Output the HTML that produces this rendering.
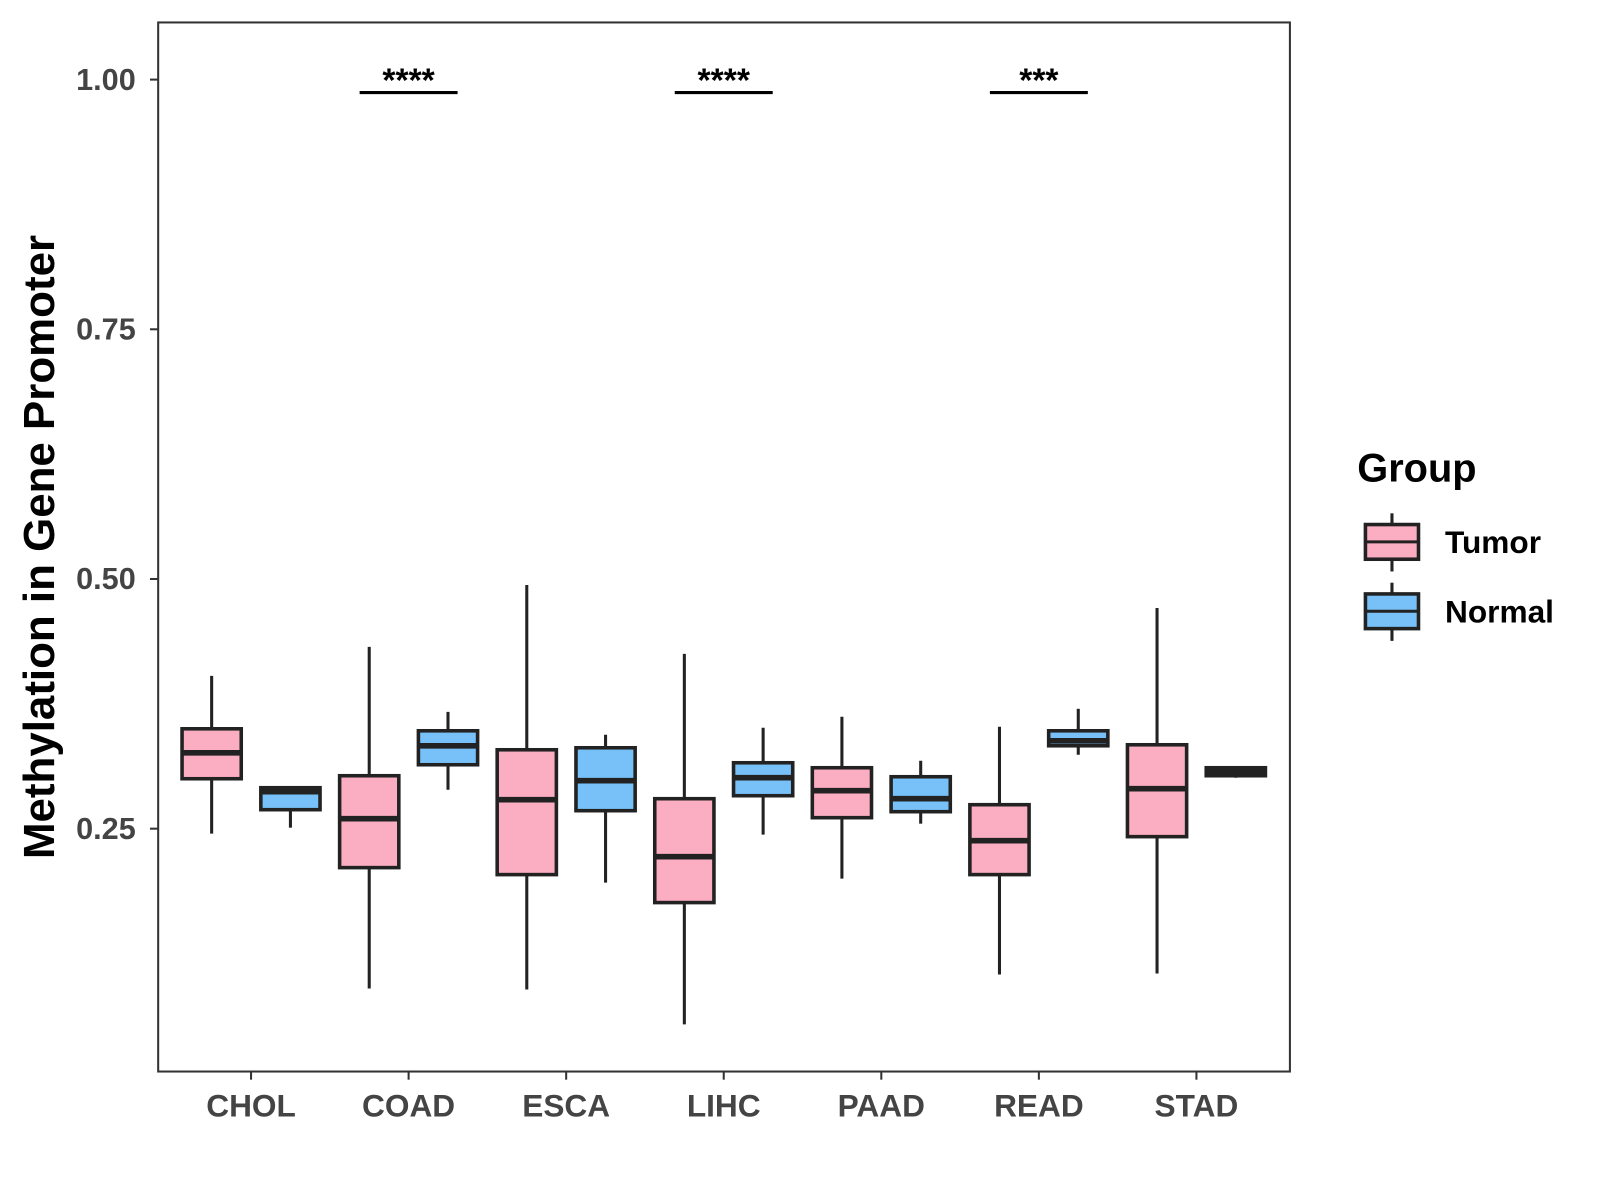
<!DOCTYPE html>
<html><head><meta charset="utf-8"><style>
body{margin:0;background:#fff}
svg{display:block;font-family:"Liberation Sans",Arial,sans-serif}
</style></head><body>
<svg id="chart" width="1600" height="1200" viewBox="0 0 1600 1200" xmlns="http://www.w3.org/2000/svg">
<rect width="1600" height="1200" fill="#fff"/>
<g transform="scale(1.0205)">
<g id="marks"></g>
<rect x="155" y="22" width="1109" height="1028" fill="none" stroke="#333" stroke-width="2"/>
<g id="axes"></g>
<text transform="translate(53,536) rotate(-90)" text-anchor="middle" font-size="43" font-weight="bold" fill="#000">Methylation in Gene Promoter</text>
<g>
<text x="1330" y="472" font-size="39" font-weight="bold" fill="#000">Group</text>
<g>
<line x1="1364" y1="503" x2="1364" y2="560" stroke="#222" stroke-width="3"/>
<rect x="1338" y="514" width="52" height="34" fill="#FBAEC1" stroke="#222" stroke-width="3.5"/>
<line x1="1338" y1="531" x2="1390" y2="531" stroke="#222" stroke-width="3"/>
<text x="1416" y="542" font-size="31" font-weight="bold" fill="#000">Tumor</text></g>
<g>
<line x1="1364" y1="571" x2="1364" y2="628" stroke="#222" stroke-width="3"/>
<rect x="1338" y="582" width="52" height="34" fill="#77C1F8" stroke="#222" stroke-width="3.5"/>
<line x1="1338" y1="599" x2="1390" y2="599" stroke="#222" stroke-width="3"/>
<text x="1416" y="610" font-size="31" font-weight="bold" fill="#000">Normal</text></g>
</g>
</g>
</svg>
<script>
const categories=["CHOL","COAD","ESCA","LIHC","PAAD","READ","STAD"];
// [lowWhisker, q1, median, q3, highWhisker]
const tumor=[[0.245,0.300,0.326,0.350,0.403],[0.090,0.211,0.260,0.303,0.432],[0.089,0.204,0.279,0.329,0.494],[0.054,0.176,0.222,0.280,0.425],[0.200,0.261,0.288,0.311,0.362],[0.104,0.204,0.238,0.274,0.352],[0.105,0.242,0.290,0.334,0.471]];
const normal=[[0.251,0.269,0.287,0.291,0.291],[0.289,0.314,0.333,0.348,0.367],[0.196,0.268,0.298,0.331,0.344],[0.244,0.283,0.301,0.316,0.351],[0.255,0.267,0.280,0.302,0.318],[0.324,0.333,0.338,0.348,0.370],[0.301,0.303,0.307,0.311,0.312]];
const yTicks=[0.25,0.50,0.75,1.00];
const yTickLabels=["0.25","0.50","0.75","1.00"];
const sigCats=["COAD","LIHC","READ"];
const sigLabels=["****","****","***"];
const sigLevel=0.987;

const NS="http://www.w3.org/2000/svg";
const y=v=>78+(1-v)*978.7;
const x=i=>246+i*154.4;
function mk(tag,attrs,parent){const e=document.createElementNS(NS,tag);for(const k in attrs)e.setAttribute(k,attrs[k]);parent.appendChild(e);return e;}
const marks=document.getElementById('marks'),axes=document.getElementById('axes');
function box(cx,d,fill,name){
  const g=mk('g',{},marks);
  
  
  mk('line',{x1:cx,x2:cx,y1:y(d[4]),y2:y(d[0]),stroke:'#222','stroke-width':3},g);
  mk('rect',{x:cx-29,y:y(d[3]),width:58,height:Math.max(1,y(d[1])-y(d[3])),fill:fill,stroke:'#222','stroke-width':3.5},g);
  mk('line',{x1:cx-29,x2:cx+29,y1:y(d[2]),y2:y(d[2]),stroke:'#222','stroke-width':5.5},g);
}
categories.forEach((c,i)=>{
  box(x(i)-38.6,tumor[i],'#FBAEC1','box-'+c.toLowerCase()+'-tumor');
  box(x(i)+38.6,normal[i],'#77C1F8','box-'+c.toLowerCase()+'-normal');
  const t=mk('line',{x1:x(i),x2:x(i),y1:1050,y2:1058,stroke:'#333','stroke-width':2},axes);
  
  
  const l=mk('text',{x:x(i),y:1094,'text-anchor':'middle','font-size':31,'font-weight':'bold',fill:'#444'},axes);
  
  
  l.textContent=c;
});
yTicks.forEach((v,i)=>{
  const t=mk('line',{x1:147,x2:155,y1:y(v),y2:y(v),stroke:'#333','stroke-width':2},axes);
  
  
  const l=mk('text',{x:133,y:y(v)+10,'text-anchor':'end','font-size':30,'font-weight':'bold',fill:'#444'},axes);
  
  
  l.textContent=yTickLabels[i];
});
sigCats.forEach((c,k)=>{
  const i=categories.indexOf(c);
  const g=mk('g',{},marks);
  
  
  mk('line',{x1:x(i)-48,x2:x(i)+48,y1:y(sigLevel),y2:y(sigLevel),stroke:'#000','stroke-width':3},g);
  const t=mk('text',{x:x(i),y:y(sigLevel)-1,'text-anchor':'middle','font-size':33,'font-weight':'bold',fill:'#000'},g);
  t.textContent=sigLabels[k];
});
</script>
</body></html>
